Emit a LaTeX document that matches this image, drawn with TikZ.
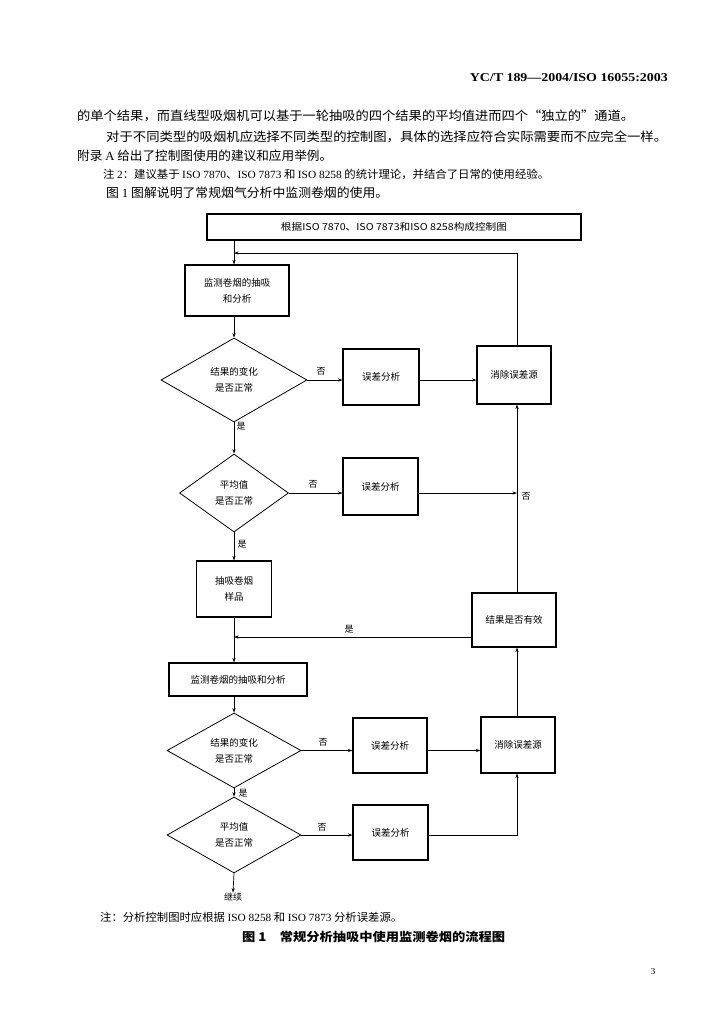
\documentclass[tikz,border=0pt]{standalone}
\usepackage{fontspec}
\setmainfont{Liberation Serif}
\newfontfamily\cjk{Noto Sans CJK SC}
\usetikzlibrary{shapes.geometric,arrows.meta}
\begin{document}
\begin{tikzpicture}[x=1pt,y=-1pt,
  box/.style={draw,line width=1.1pt,inner sep=0pt,align=center,font=\cjk\fontsize{9.5}{16}\selectfont},
  dia/.style={draw,diamond,line width=0.8pt,inner sep=0pt,align=center,font=\cjk\fontsize{9.5}{16}\selectfont},
  conn/.style={line width=0.7pt},
  arr/.style={conn,-{Stealth[length=4.5pt,width=3.2pt]}},
  lab/.style={font=\cjk\fontsize{9}{9}\selectfont,inner sep=0pt},
  body/.style={anchor=west,inner sep=0pt,font=\cjk\fontsize{12.5}{12.5}\selectfont},
  small/.style={anchor=west,inner sep=0pt,font=\cjk\fontsize{11}{11}\selectfont},
]
\useasboundingbox[fill=white] (0,0) rectangle (714,1024);

% page text
\node[anchor=east,inner sep=0pt,font=\bfseries\fontsize{12}{12}\selectfont] (hdr) at (668,78)
  {\resizebox{198pt}{\height}{YC/T 189—2004/ISO 16055:2003}};
\node[body] (l1) at (77,116) {\resizebox{557pt}{\height}{的单个结果，而直线型吸烟机可以基于一轮抽吸的四个结果的平均值进而四个“独立的”通道。}};
\node[body] (l2) at (106,137) {\resizebox{561pt}{\height}{对于不同类型的吸烟机应选择不同类型的控制图，具体的选择应符合实际需要而不应完全一样。}};
\node[body] (l3) at (77,156) {\resizebox{255pt}{\height}{附录 {\rmfamily A} 给出了控制图使用的建议和应用举例。}};
\node[small] (n2) at (103,174) {\resizebox{446pt}{\height}{注 {\rmfamily 2}：建议基于 {\rmfamily ISO 7870}、{\rmfamily ISO 7873} 和 {\rmfamily ISO 8258} 的统计理论，并结合了日常的使用经验。}};
\node[body] (l5) at (106,193) {\resizebox{282pt}{\height}{图 {\rmfamily 1} 图解说明了常规烟气分析中监测卷烟的使用。}};

% flowchart nodes
\node[box,minimum width=374pt,minimum height=26pt] (top) at (394,227) {\resizebox{226pt}{\height}{根据ISO 7870、ISO 7873和ISO 8258构成控制图}};
\node[box,minimum width=104pt,minimum height=51pt] (m1) at (237,290.5) {监测卷烟的抽吸\\和分析};
\node[dia,minimum width=146pt,minimum height=84pt] (d1) at (234,380) {结果的变化\\是否正常};
\node[box,minimum width=76pt,minimum height=56pt] (e1) at (381,377) {误差分析};
\node[box,minimum width=74pt,minimum height=58pt] (c1) at (514,375) {消除误差源};
\node[dia,minimum width=109pt,minimum height=78pt] (d2) at (234,493) {平均值\\是否正常};
\node[box,minimum width=75pt,minimum height=57pt] (e2) at (380.5,486.5) {误差分析};
\node[box,minimum width=75pt,minimum height=56pt] (s) at (234,589) {抽吸卷烟\\样品};
\node[box,minimum width=84pt,minimum height=54pt] (v) at (514,620) {结果是否有效};
\node[box,minimum width=138pt,minimum height=33pt] (m2) at (238,679.5) {监测卷烟的抽吸和分析};
\node[dia,minimum width=134pt,minimum height=75pt] (d3) at (234,750.5) {结果的变化\\是否正常};
\node[box,minimum width=74pt,minimum height=55pt] (e3) at (390,745.5) {误差分析};
\node[box,minimum width=74pt,minimum height=56pt] (c2) at (518,745) {消除误差源};
\node[dia,minimum width=134pt,minimum height=76pt] (d4) at (234,835) {平均值\\是否正常};
\node[box,minimum width=75pt,minimum height=55pt] (e4) at (390.5,832.5) {误差分析};
\node[lab] (go) at (233,897) {继续};

\coordinate (tk) at (234,0);
\coordinate (vl) at (517,0);
\coordinate (fb) at (234,253);
\coordinate (jn) at (234,637);

% connectors
\draw[arr] (top.south -| tk) -- (m1.north -| tk);
\draw[arr] (c1.north -| vl) |- (fb);
\draw[arr] (m1.south -| tk) -- (d1.north);
\draw[arr] (d1.east) -- (d1.east -| e1.west);
\draw[arr] (d1.east -| e1.east) -- (d1.east -| c1.west);
\draw[arr] (d1.south) -- (d2.north);
\draw[arr] (d2.east) -- (d2.east -| e2.west);
\draw[arr] (d2.east -| e2.east) -- (d2.east -| vl);
\draw[arr] (v.north -| vl) -- (c1.south -| vl);
\draw[arr] (d2.south) -- (s.north);
\draw[arr] (s.south) -- (m2.north -| tk);
\draw[arr] (v.west |- jn) -- (jn);
\draw[arr] (m2.south -| tk) -- (d3.north);
\draw[arr] (d3.east) -- (d3.east -| e3.west);
\draw[arr] (d3.east -| e3.east) -- (d3.east -| c2.west);
\draw[arr] (c2.north -| vl) -- (v.south -| vl);
\draw[arr] (d3.south) -- (d4.north);
\draw[arr] (d4.east) -- (d4.east -| e4.west);
\draw[arr] (d4.east -| e4.east) -| (c2.south -| vl);
\draw[arr] (d4.south) -- (go.north);

% labels
\node[lab] (la1) at (321,371) {否};
\node[lab] (la2) at (241,426) {是};
\node[lab] (la3) at (313,484) {否};
\node[lab] (la4) at (526,496) {否};
\node[lab] (la5) at (242,544) {是};
\node[lab] (la6) at (349,629) {是};
\node[lab] (la7) at (323,742) {否};
\node[lab] (la8) at (243,793) {是};
\node[lab] (la9) at (322,827) {否};

% bottom text
\node[small] (nb) at (100,917) {\resizebox{302pt}{\height}{注：分析控制图时应根据 {\rmfamily ISO 8258} 和 {\rmfamily ISO 7873} 分析误差源。}};
\node[anchor=west,inner sep=0pt,font=\cjk\bfseries\fontsize{12}{12}\selectfont] (cap) at (242,937)
  {\resizebox{263pt}{\height}{图 1\quad 常规分析抽吸中使用监测卷烟的流程图}};
\node[inner sep=0pt,font=\fontsize{9}{9}\selectfont] (pg) at (653,972) {3};
\end{tikzpicture}
\end{document}
